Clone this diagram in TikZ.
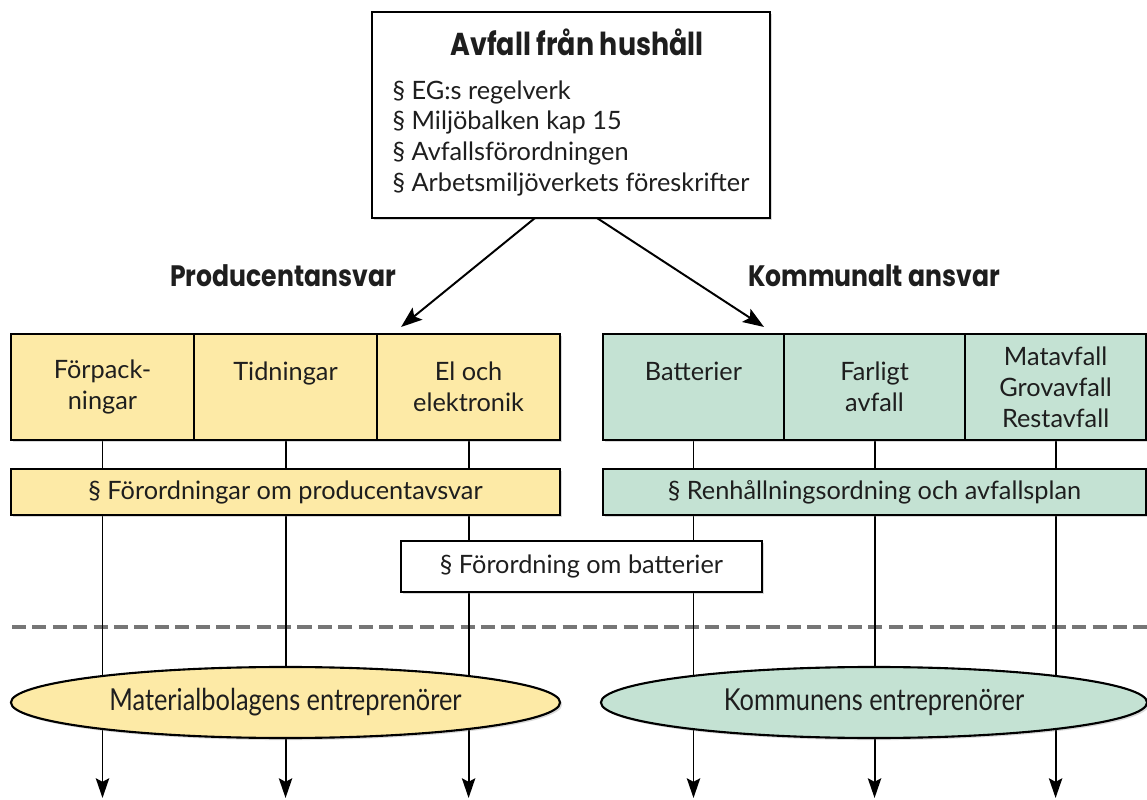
\documentclass[tikz,border=0pt]{standalone}
\usepackage{fontspec}
\setmainfont{Lato}
\newfontfamily\rubrikfont[FakeStretch=0.85]{Poppins}
\newfontfamily\smalfont[FakeStretch=0.84]{Lato}
\usetikzlibrary{positioning,arrows.meta,shapes.geometric,shadows,backgrounds}
\definecolor{gul}{RGB}{253,234,166}
\definecolor{gron}{RGB}{196,226,211}
\definecolor{streck}{RGB}{118,118,118}
\definecolor{text}{RGB}{30,30,30}
\newcommand{\rubrik}[2][21]{{\rubrikfont\bfseries\fontsize{#1}{24}\selectfont #2}}
\newcommand{\para}{\S\ }

\begin{document}
\begin{tikzpicture}[x=0.025cm,y=-0.025cm]
  \tikzset{ram/.style={draw=black, line width=1.5pt, inner sep=0pt, outer sep=0pt, text=text,
                       font=\fontsize{18}{22}\selectfont, align=center,
                       drop shadow={shadow xshift=1.5pt, shadow yshift=-1.5pt, opacity=.3}},
           fack/.style={ram, minimum width=#1, minimum height=2.65cm},
           lag/.style={ram, minimum height=1.15cm},
           oval/.style={ram, ellipse, minimum height=1.775cm, font=\smalfont\fontsize{21.5}{24}\selectfont},
           pil/.style={line width=1.4pt, -{Stealth[length=15pt, width=11pt, inset=3pt]}},
           ned/.style={line width=1.4pt, -{Stealth[length=14pt, width=9.5pt, inset=2.5pt]}},
           streckat/.style={line width=2.8pt, streck, dash pattern=on 10pt off 4.5pt}}
  \useasboundingbox (0,0) rectangle (1147,800);

  \node[ram, fill=white, minimum width=9.95cm, minimum height=5.15cm] (hushall) at (571,115)
    {\begin{tabular}{@{}l@{}}
       \multicolumn{1}{c}{\hspace{0.3cm}\rubrik[22.5]{Avfall från hushåll}}\\[9pt]
       \para EG:s regelverk\\
       \para Miljöbalken kap 15\\
       \para Avfallsförordningen\\
       \para Arbetsmiljöverkets föreskrifter
     \end{tabular}};

  \node[text=text] (prod) at (283,276) {\rubrik{Producentansvar}};
  \node[text=text] (komm) at (874,276) {\rubrik{Kommunalt ansvar}};

  % producentansvar
  \node[fack=4.575cm, fill=gul] (forp) at (102.5,387) {Förpack-\\ningar};
  \node[fack=4.575cm, fill=gul, right=0pt of forp] (tidn) {Tidningar\\\mbox{}};
  \node[fack=4.575cm, fill=gul, right=0pt of tidn] (elek) {El och\\elektronik};
  \node[lag, fill=gul, minimum width=13.725cm, below=0.725cm of tidn] (prodlag)
    {\para Förordningar om producentavsvar};

  % kommunalt ansvar
  \node[fack=4.525cm, fill=gron] (batt) at (693.5,387) {Batterier\\\mbox{}};
  \node[fack=4.525cm, fill=gron, right=0pt of batt] (farl) {Farligt\\avfall};
  \node[fack=4.525cm, fill=gron, right=0pt of farl] (mat) {Matavfall\\Grovavfall\\Restavfall};
  \node[lag, fill=gron, minimum width=13.575cm, below=0.725cm of farl] (renh)
    {\para Renhållningsordning och avfallsplan};

  \node[lag, fill=white, minimum width=9.025cm, minimum height=1.275cm] (battlag) at (581.5,566.5)
    {\para Förordning om batterier};

  \node[oval, fill=gul, minimum width=13.725cm] (matbol) at (285.5,702.5) {Materialbolagens entreprenörer};
  \node[oval, fill=gron, minimum width=13.65cm] (kommen) at (874,702.5) {Kommunens entreprenörer};

  \coordinate (botten) at (0,798);

  \draw[pil] ([xshift=-0.9cm]hushall.south) -- ([xshift=0.6cm, yshift=0.175cm]elek.north west);
  \draw[pil] ([xshift=0.65cm]hushall.south) -- ([xshift=-0.5cm, yshift=0.175cm]batt.north east);

  \begin{scope}[on background layer]
    \draw[streckat] (12,627) -- (1147,627);
    \foreach \n in {forp,tidn,elek,batt,farl,mat}
      \draw[ned] (\n.south) -- (\n.south |- botten);
  \end{scope}
\end{tikzpicture}
\end{document}
